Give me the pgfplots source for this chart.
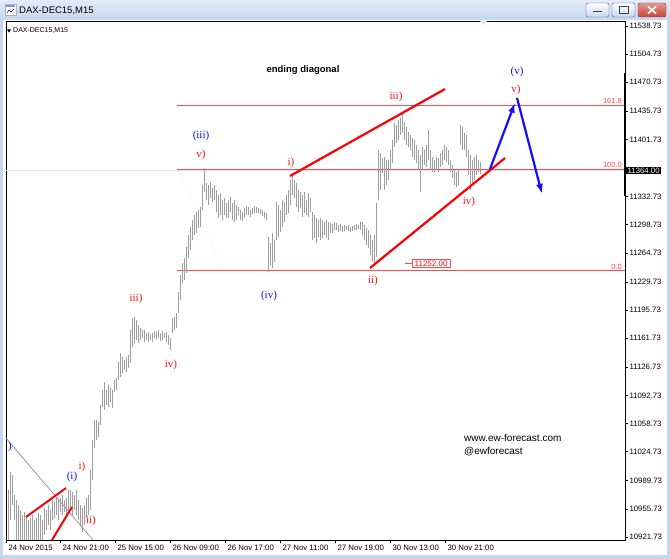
\documentclass[border=0pt]{standalone}
\usepackage{fontspec}
\setmainfont{Liberation Sans}
\newfontfamily\wserif{Liberation Serif}
\usepackage{pgfplots}
\pgfplotsset{compat=1.18}
\usepackage{pgfplotstable}
\usetikzlibrary{arrows.meta}
\definecolor{winblue}{HTML}{C4D7EE}
\definecolor{titletop}{HTML}{E2ECF8}
\definecolor{barcol}{HTML}{9E9E9E}
\definecolor{fibred}{HTML}{FF4A4A}
\definecolor{wred}{HTML}{FF1010}
\definecolor{wblue}{HTML}{1010FF}
\definecolor{bidcol}{HTML}{E2E2F2}
\definecolor{closered}{HTML}{C8463A}

\pgfplotstableread{
x lo hi
8 10918 10978
10 10942 11000
12 10960 10997
14 10942 10972
16 10918 10966
18 10918 10960
20 10918 10954
22 10918 10948
24 10918 10952
26 10918 10948
28 10918 10942
30 10918 10945
32 10918 10948
34 10918 10942
36 10918 10945
38 10918 10951
40 10918 10948
42 10918 10942
44 10924 10957
46 10930 10954
48 10936 10960
50 10930 10954
52 10942 10966
54 10945 10964
56 10948 10969
58 10942 10966
60 10952 10969
62 10948 10972
64 10952 10966
66 10948 10969
68 10954 10978
70 10957 10978
72 10948 10976
74 10954 10972
76 10948 10978
78 10942 10966
80 10936 10960
82 10928 10957
84 10936 10960
86 10945 10969
88 10948 10972
90 10954 11003
92 10990 11039
94 11029 11063
96 11039 11063
98 11042 11060
100 11057 11081
102 11079 11099
104 11075 11109
106 11081 11099
108 11079 11105
110 11085 11102
112 11078 11099
114 11097 11111
116 11099 11114
118 11111 11133
120 11115 11144
122 11120 11139
124 11123 11135
126 11121 11139
128 11126 11141
130 11132 11172
132 11151 11186
134 11156 11187
136 11160 11184
138 11156 11178
140 11160 11174
142 11162 11172
144 11157 11172
146 11160 11168
148 11157 11169
150 11160 11167
152 11157 11168
154 11162 11170
156 11160 11169
158 11162 11172
160 11158 11168
162 11160 11170
164 11162 11168
166 11157 11169
168 11154 11166
170 11148 11162
172 11168 11186
174 11172 11187
176 11174 11192
178 11192 11218
180 11208 11238
182 11228 11253
184 11232 11259
186 11241 11272
188 11259 11286
190 11268 11296
192 11280 11305
194 11286 11311
196 11289 11314
198 11295 11317
200 11296 11320
202 11317 11347
204 11338 11367
206 11329 11349
208 11323 11347
210 11331 11350
212 11326 11343
214 11329 11347
216 11314 11341
218 11307 11335
220 11310 11337
222 11305 11329
224 11310 11331
226 11307 11325
228 11307 11329
230 11314 11332
232 11305 11325
234 11302 11329
236 11305 11323
238 11311 11320
240 11305 11317
242 11303 11314
244 11307 11319
246 11311 11321
248 11311 11320
250 11308 11317
252 11312 11319
254 11313 11321
256 11313 11320
258 11313 11319
260 11312 11318
262 11309 11317
264 11307 11314
266 11305 11313
268 11242 11284
270 11250 11277
272 11247 11289
274 11254 11280
276 11280 11326
278 11284 11323
280 11290 11317
282 11296 11329
284 11302 11326
286 11311 11335
288 11313 11341
290 11323 11353
292 11335 11358
294 11331 11353
296 11320 11349
298 11314 11341
300 11319 11338
302 11308 11335
304 11313 11338
306 11311 11329
308 11308 11337
310 11314 11331
312 11280 11314
314 11283 11311
316 11277 11307
318 11284 11305
320 11280 11307
322 11283 11305
324 11286 11302
326 11283 11305
328 11280 11302
330 11289 11301
332 11289 11300
334 11292 11302
336 11292 11301
338 11290 11298
340 11291 11300
342 11290 11297
344 11291 11298
346 11292 11297
348 11291 11298
350 11290 11296
352 11291 11297
354 11292 11298
356 11292 11300
358 11293 11298
360 11292 11302
362 11286 11302
364 11280 11298
366 11274 11295
368 11271 11292
370 11262 11286
372 11254 11280
374 11252 11286
376 11260 11325
378 11329 11389
380 11341 11385
382 11361 11379
384 11341 11381
386 11347 11377
388 11353 11377
390 11365 11389
392 11373 11401
394 11393 11422
396 11398 11419
398 11401 11425
400 11407 11428
402 11410 11433
404 11401 11423
406 11395 11417
408 11393 11411
410 11389 11407
412 11381 11404
414 11377 11401
416 11373 11395
418 11365 11389
420 11338 11383
422 11365 11393
424 11371 11389
426 11369 11395
428 11377 11413
430 11365 11389
432 11362 11381
434 11361 11377
436 11365 11381
438 11362 11379
440 11369 11385
442 11371 11389
444 11377 11395
446 11375 11393
448 11371 11389
450 11362 11377
452 11355 11371
454 11347 11365
456 11344 11362
458 11347 11365
460 11395 11419
462 11389 11417
464 11389 11410
466 11381 11407
468 11359 11389
470 11341 11383
472 11347 11377
474 11353 11381
476 11359 11383
478 11362 11377
480 11360 11375
}\bars

\begin{document}
\begin{tikzpicture}
% window frame
\fill[winblue] (0pt,0pt) rectangle (670pt,-559pt);
\shade[top color=titletop, bottom color=winblue] (0pt,0pt) rectangle (670pt,-20pt);
\fill[white] (3pt,-20pt) rectangle (667pt,-555pt);
% icon
\fill[white, draw=gray!60, line width=0.4pt] (5pt,-4pt) rectangle (16pt,-15pt);
\fill[blue!45] (6pt,-5pt) rectangle (15pt,-7pt);
\draw[blue!60!black, line width=0.5pt] (7pt,-13pt) -- (9pt,-10pt) -- (11pt,-12pt) -- (14pt,-9pt);
\node[anchor=west, font=\fontsize{9.5}{11}\selectfont, inner sep=0pt] at (19pt,-10.5pt) {DAX-DEC15,M15};
% window buttons
\draw[rounded corners=2pt, draw=gray!60!blue, top color=white, bottom color=winblue] (586pt,-3pt) rectangle (609pt,-17pt);
\draw[gray!50!black, line width=1pt] (593pt,-12pt) -- (602pt,-12pt);
\draw[rounded corners=2pt, draw=gray!60!blue, top color=white, bottom color=winblue] (612pt,-3pt) rectangle (635pt,-17pt);
\draw[gray!50!black, line width=0.8pt] (619pt,-6.5pt) rectangle (628pt,-13.5pt);
\draw[rounded corners=2pt, draw=closered!70!black, top color=closered!55, bottom color=closered] (638pt,-3pt) rectangle (666pt,-17pt);
\draw[white, line width=1.6pt] (648pt,-6.5pt) -- (656pt,-13.5pt) (648pt,-13.5pt) -- (656pt,-6.5pt);

\begin{axis}[
  at={(6pt,-540pt)}, anchor=south west,
  scale only axis, width=619pt, height=519pt,
  xmin=6, xmax=625, ymin=10918.05, ymax=11544.76,
  clip=false,
  scaled y ticks=false, scaled x ticks=false,
  axis line style={black, line width=0.7pt},
  xtick={6,60,115,170,225,280,335,390,445},
  xticklabels={24 Nov 2015,24 Nov 21:00,25 Nov 15:00,26 Nov 09:00,26 Nov 17:00,27 Nov 11:00,27 Nov 19:00,30 Nov 13:00,30 Nov 21:00},
  xtick pos=lower, ytick pos=right, yticklabel pos=right,
  ytick={10921.73,10955.73,10989.73,11024.73,11058.73,11092.73,11126.73,11161.73,11195.73,11229.73,11264.73,11298.73,11332.73,11401.73,11435.73,11470.73,11504.73,11538.73},
  yticklabels={10921.73,10955.73,10989.73,11024.73,11058.73,11092.73,11126.73,11161.73,11195.73,11229.73,11264.73,11298.73,11332.73,11401.73,11435.73,11470.73,11504.73,11538.73},
  tick align=outside, major tick length=3pt,
  tick style={black, line width=0.5pt},
  xticklabel style={anchor=north west, xshift=-1pt, yshift=1pt, font=\fontsize{7.8}{9}\selectfont},
  yticklabel style={anchor=west, xshift=-2pt, font=\fontsize{7.8}{9}\selectfont},
]
% bid line and fibonacci levels
\draw[bidcol, line width=0.6pt] (axis cs:6,11364) -- (axis cs:625,11364);
\draw[bidcol, line width=0.6pt, dotted] (axis cs:178,11367) -- (axis cs:224,11243);
\draw[fibred, line width=0.8pt] (axis cs:177,11443) -- (axis cs:625,11443);
\draw[fibred, line width=0.8pt] (axis cs:177,11366) -- (axis cs:625,11366);
\draw[fibred, line width=0.8pt] (axis cs:177,11243.5) -- (axis cs:625,11243.5);
\node[anchor=south east, text=fibred, font=\fontsize{7.5}{8}\selectfont, inner sep=1pt] at (axis cs:623,11443) {161.8};
\node[anchor=south east, text=fibred, font=\fontsize{7.5}{8}\selectfont, inner sep=1pt] at (axis cs:623,11366) {100.0};
\node[anchor=south east, text=fibred, font=\fontsize{7.5}{8}\selectfont, inner sep=1pt] at (axis cs:623,11243.5) {0.0};
% gray trend line bottom left
\draw[gray, line width=0.6pt] (axis cs:6,11041) -- (axis cs:93,10918.05);

% price bars (high-low)
\addplot[barcol, line width=0.9pt, quiver={u=0, v=\thisrow{hi}-\thisrow{lo}}] table[x=x, y=lo] {\bars};

% red wave lines
\draw[red, line width=2.2pt] (axis cs:290,11357.6) -- (axis cs:445,11462.6);
\draw[red, line width=2.2pt] (axis cs:370,11246.5) -- (axis cs:505,11379.3);
\draw[red, line width=2pt] (axis cs:26,10945.8) -- (axis cs:66,10980.8);
\draw[red, line width=2pt] (axis cs:52,10918.05) -- (axis cs:72,10957.9);
% blue projection arrows
\draw[wblue, line width=2.2pt, -{Latex[length=10pt,width=7pt]}] (axis cs:490,11366) -- (axis cs:515,11446);
\draw[wblue, line width=2.2pt, -{Latex[length=10pt,width=7pt]}] (axis cs:517,11452) -- (axis cs:542,11336);

% 11252 marker
\draw[fibred, line width=0.8pt] (axis cs:405,11252) -- (axis cs:412,11252);
\node[anchor=west, draw=fibred, fill=white, text=wred, font=\fontsize{8}{9}\selectfont, inner xsep=2.5pt, inner ysep=1pt] at (axis cs:412,11252) {11252.00};

% wave labels
\node[font=\bfseries\fontsize{9.5}{11}\selectfont] at (axis cs:303,11485.6) {ending diagonal};
\node[text=wblue, font=\wserif\fontsize{11}{12}\selectfont] at (axis cs:517,11483.2) {(v)};
\node[text=wred, font=\wserif\fontsize{11}{12}\selectfont] at (axis cs:516,11461.4) {v)};
\node[text=wred, font=\wserif\fontsize{11}{12}\selectfont] at (axis cs:396,11453) {iii)};
\node[text=wred, font=\wserif\fontsize{11}{12}\selectfont] at (axis cs:291,11373.3) {i)};
\node[text=wblue, font=\wserif\fontsize{11}{12}\selectfont] at (axis cs:201,11405.9) {(iii)};
\node[text=wred, font=\wserif\fontsize{11}{12}\selectfont] at (axis cs:201,11383) {v)};
\node[text=wred, font=\wserif\fontsize{11}{12}\selectfont] at (axis cs:469,11326.2) {iv)};
\node[text=wred, font=\wserif\fontsize{11}{12}\selectfont] at (axis cs:373,11230.8) {ii)};
\node[text=wblue, font=\wserif\fontsize{11}{12}\selectfont] at (axis cs:269,11212.7) {(iv)};
\node[text=wred, font=\wserif\fontsize{11}{12}\selectfont] at (axis cs:136,11209.1) {iii)};
\node[text=wred, font=\wserif\fontsize{11}{12}\selectfont] at (axis cs:171,11129.4) {iv)};
\node[text=wblue, font=\wserif\fontsize{11}{12}\selectfont] at (axis cs:72,10994.1) {(i)};
\node[text=wred, font=\wserif\fontsize{11}{12}\selectfont] at (axis cs:82,11006.2) {i)};
\node[text=wred, font=\wserif\fontsize{11}{12}\selectfont] at (axis cs:91,10941) {ii)};
\node[text=wblue, font=\wserif\fontsize{11}{12}\selectfont, anchor=east, inner sep=0pt] at (axis cs:12,11030.4) {)};

% watermark
\node[anchor=west, font=\fontsize{10}{11}\selectfont, inner sep=0pt] at (axis cs:464,11041.2) {www.ew-forecast.com};
\node[anchor=west, font=\fontsize{10}{11}\selectfont, inner sep=0pt] at (axis cs:464,11024.3) {@ewforecast};

% chart caption
\fill[black] (axis cs:7,11534.5) -- (axis cs:11,11534.5) -- (axis cs:9,11530.8) -- cycle;
\node[anchor=west, font=\fontsize{7}{8}\selectfont, inner sep=0pt] at (axis cs:13,11532.7) {DAX-DEC15,M15};
\fill[bidcol] (axis cs:480,11544.7) -- (axis cs:487,11544.7) -- (axis cs:483.5,11540) -- cycle;

% price scale marks
\draw[black, line width=2pt] (axis cs:625,11481.9) -- (axis cs:625,11333.4);
\node[anchor=west, fill=black, text=white, font=\fontsize{7.8}{9}\selectfont, inner xsep=1.5pt, inner ysep=1pt] at (axis cs:626,11364) {11364.00};
\end{axis}
\end{tikzpicture}
\end{document}
